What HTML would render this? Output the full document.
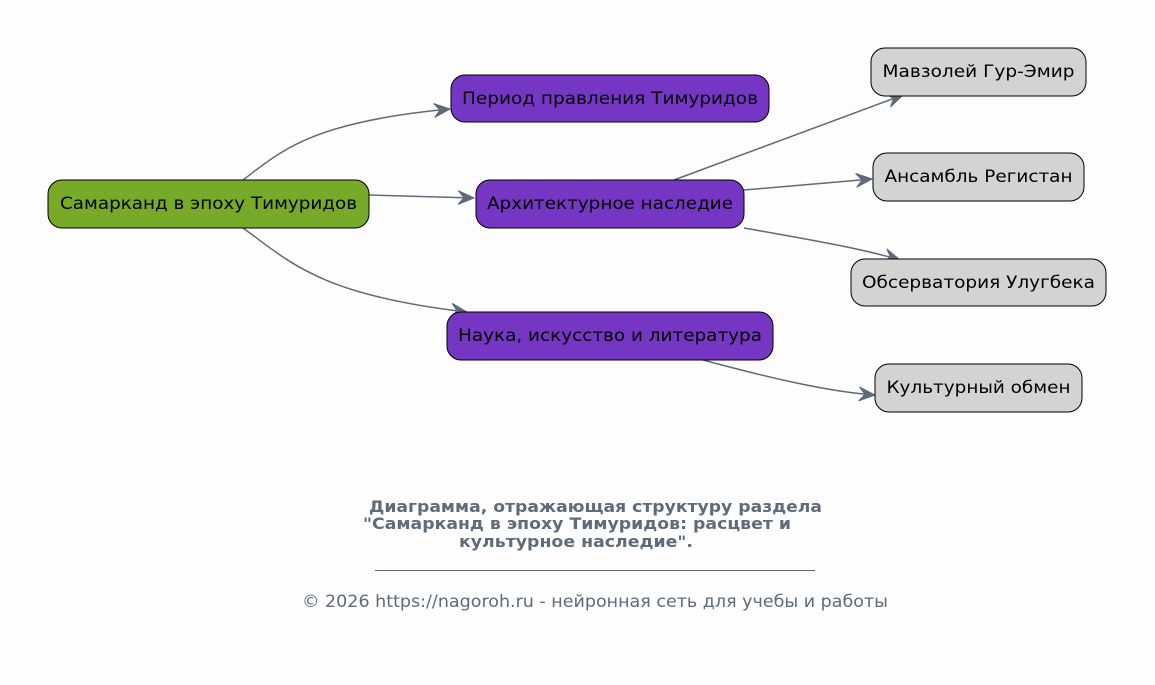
<!DOCTYPE html>
<html><head><meta charset="utf-8"><style>
html,body{margin:0;padding:0;background:#fdfdfd;}
svg{display:block;font-family:"DejaVu Sans","Liberation Sans",sans-serif;}
</style></head><body>
<svg width="1155" height="685" viewBox="0 0 1155 685" xmlns="http://www.w3.org/2000/svg">
<defs>
<marker id="a" markerUnits="userSpaceOnUse" markerWidth="20" markerHeight="20" refX="16" refY="7" orient="auto" viewBox="0 0 20 14">
<path d="M0,0 L16,7 L0,14 L6,7 Z" fill="#5d6b7a" stroke="#5d6b7a" stroke-width="1"/>
</marker>
</defs>
<rect width="1155" height="685" fill="#fdfdfd"/>
<g fill="none" stroke="#5d6b7a" stroke-width="1.5" marker-end="url(#a)">
<path d="M243,180 C280,152 310,122 450,109"/>
<path d="M369,195 L474,198"/>
<path d="M243,228 C290,262 320,295 467,312"/>
<path d="M674,180 L903,95"/>
<path d="M744,190 L872,179"/>
<path d="M744,228 C800,238 860,248 900,260"/>
<path d="M703,360 C770,378 830,392 875,395"/>
</g>
<g stroke="#000" stroke-width="1">
<rect x="48" y="180" width="321" height="48" rx="14" fill="#77aa28"/>
<rect x="451" y="75" width="318" height="47" rx="14" fill="#7636c4"/>
<rect x="476" y="180" width="268" height="48" rx="14" fill="#7636c4"/>
<rect x="447" y="312" width="326" height="48" rx="14" fill="#7636c4"/>
<rect x="871" y="48" width="215" height="48" rx="14" fill="#d3d3d3"/>
<rect x="873" y="153" width="211" height="48" rx="14" fill="#d3d3d3"/>
<rect x="851" y="259" width="255" height="47" rx="14" fill="#d3d3d3"/>
<rect x="875" y="364" width="207" height="48" rx="14" fill="#d3d3d3"/>
</g>
<g font-size="17" fill="#000" text-anchor="middle" lengthAdjust="spacingAndGlyphs">
<text x="208.5" y="209" textLength="297" lengthAdjust="spacingAndGlyphs">Самарканд в эпоху Тимуридов</text>
<text x="610" y="104" textLength="296" lengthAdjust="spacingAndGlyphs">Период правления Тимуридов</text>
<text x="610" y="209" textLength="246" lengthAdjust="spacingAndGlyphs">Архитектурное наследие</text>
<text x="610" y="341" textLength="304" lengthAdjust="spacingAndGlyphs">Наука, искусство и литература</text>
<text x="978.5" y="77" textLength="192" lengthAdjust="spacingAndGlyphs">Мавзолей Гур-Эмир</text>
<text x="978.5" y="182" textLength="188" lengthAdjust="spacingAndGlyphs">Ансамбль Регистан</text>
<text x="978.5" y="288" textLength="233" lengthAdjust="spacingAndGlyphs">Обсерватория Улугбека</text>
<text x="978.5" y="393" textLength="184" lengthAdjust="spacingAndGlyphs">Культурный обмен</text>
</g>
<g font-size="16" font-weight="bold" fill="#5d6b7a" text-anchor="middle">
<text x="595.5" y="512" textLength="453" lengthAdjust="spacingAndGlyphs">Диаграмма, отражающая структуру раздела</text>
<text x="577" y="529" textLength="428" lengthAdjust="spacingAndGlyphs">"Самарканд в эпоху Тимуридов: расцвет и</text>
<text x="576" y="547" textLength="234" lengthAdjust="spacingAndGlyphs">культурное наследие".</text>
</g>
<line x1="375" y1="570.5" x2="815" y2="570.5" stroke="#5d6b7a" stroke-width="1"/>
<text x="595" y="607" font-size="17" fill="#5d6b7a" text-anchor="middle" textLength="586" lengthAdjust="spacingAndGlyphs">© 2026 https://nagoroh.ru - нейронная сеть для учебы и работы</text>
</svg>
</body></html>
